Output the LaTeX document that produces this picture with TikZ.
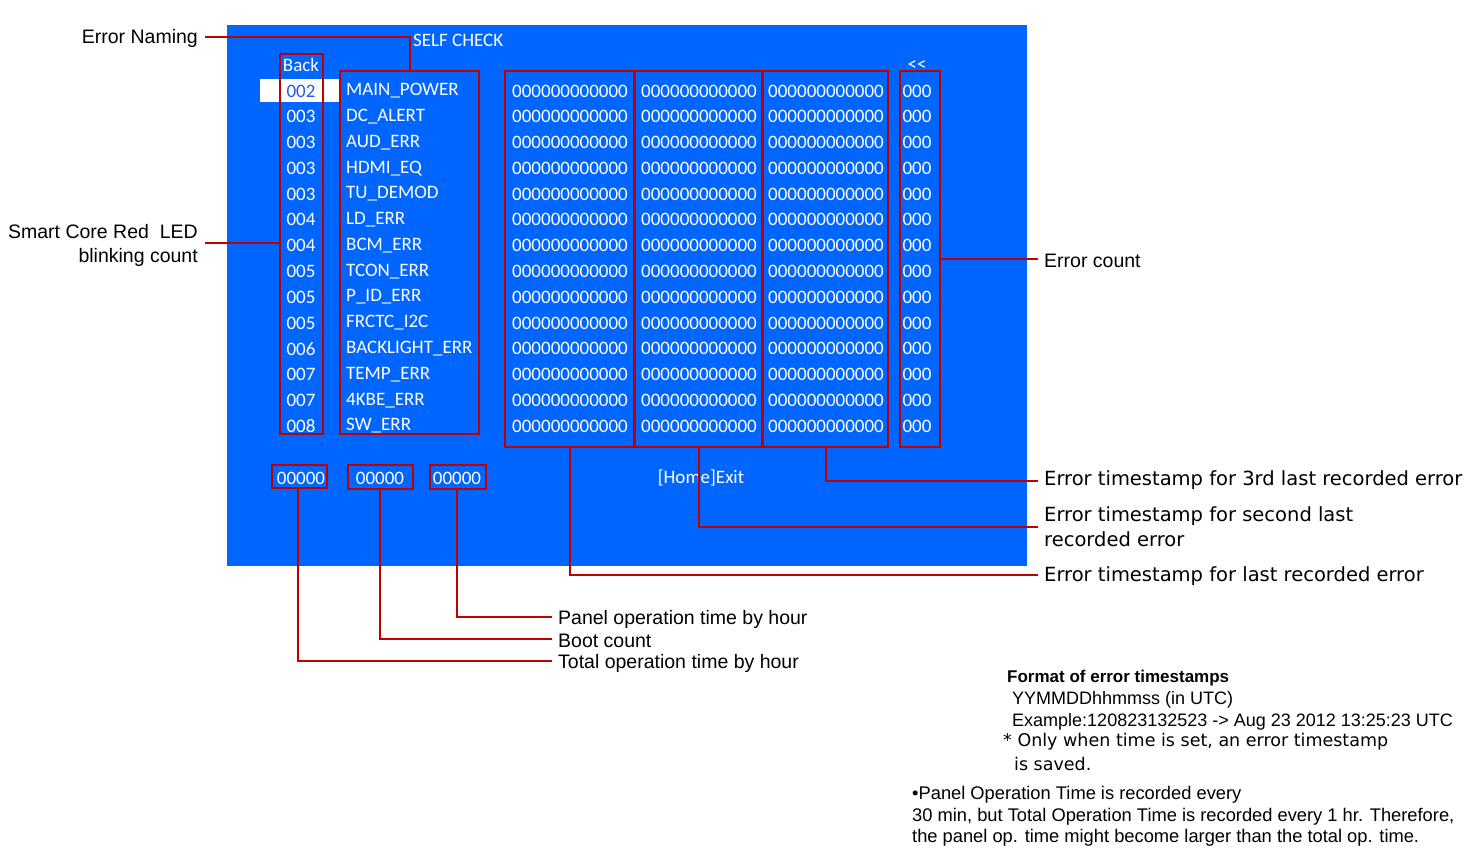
\documentclass[tikz,border=0pt]{standalone}
\usepackage{fontspec}
\setmainfont{Liberation Sans}
\newfontfamily\scr{Carlito}
\newfontfamily\wide{DejaVu Sans}
\begin{document}
\begin{tikzpicture}[x=1pt,y=-1pt,
  scrt/.style={font=\scr\fontsize{19}{19}\selectfont,text=white,inner sep=0pt},
  box/.style={draw=red!75!black,line width=1.6pt},
  lead/.style={draw=red!75!black,line width=1.3pt},
  ann/.style={font=\fontsize{19.5}{24}\selectfont,inner sep=0pt,anchor=west},
  rann/.style={font=\wide\fontsize{19.5}{25}\selectfont,inner sep=0pt,anchor=west},
  fmt/.style={font=\fontsize{18}{21}\selectfont,inner sep=0pt,anchor=west}]
\useasboundingbox (0,0) rectangle (1471,859);
\fill[white] (0,0) rectangle (1471,859);
\fill[fill={rgb,255:red,0;green,102;blue,255}] (227,25) rectangle (1027,566);
\fill[white] (260,79) rectangle (340,102);
\node[scrt,anchor=west] (title) at (413,40) {SELF CHECK};
\node[scrt] (back) at (301,65) {Back};
\node[scrt] (prev) at (917,66) {<<};
\foreach \c/\n [count=\i from 0] in {002/MAIN\_POWER,003/DC\_ALERT,003/AUD\_ERR,003/HDMI\_EQ,003/TU\_DEMOD,004/LD\_ERR,004/BCM\_ERR,005/TCON\_ERR,005/P\_ID\_ERR,005/FRCTC\_I2C,006/BACKLIGHT\_ERR,007/TEMP\_ERR,007/4KBE\_ERR,008/SW\_ERR}{
  \pgfmathsetmacro\yy{91+25.77*\i}
  \node[scrt] (c\i) at (301,\yy) {\c};
  \node[scrt,anchor=west] (n\i) at (346,\yy) {\n};
  \node[scrt] (ta\i) at (570,\yy) {000000000000};
  \node[scrt] (tb\i) at (699,\yy) {000000000000};
  \node[scrt] (tc\i) at (826,\yy) {000000000000};
  \node[scrt] (k\i) at (917,\yy) {000};
}
\node[scrt,text={rgb,255:red,40;green,90;blue,230}] at (301,91) {002};
\node[scrt] (t1) at (301,478) {00000};
\node[scrt] (t2) at (380,478) {00000};
\node[scrt] (t3) at (457,478) {00000};
\node[scrt] (exit) at (701,478) {[Home]Exit};
% boxes
\draw[box] (280,54) rectangle (323,434);
\draw[box] (340,71) rectangle (479,434);
\draw[box] (505,71) rectangle (634,447);
\draw[box] (635,71) rectangle (762,447);
\draw[box] (763,71) rectangle (888,447);
\draw[box] (900,71) rectangle (940,447);
\draw[box] (272,465) rectangle (327,488);
\draw[box] (348,465) rectangle (413,489);
\draw[box] (430,465) rectangle (486,489);
% labels
\node[ann,anchor=east] (lname) at (198,38) {Error Naming};
\node[ann,anchor=east,align=right] (lled) at (198,245) {Smart Core Red\ \ LED\\blinking count};
\node[ann] (lcnt) at (1044,261) {Error count};
\node[rann] (l3) at (1044,480) {Error timestamp for 3rd last recorded error};
\node[rann,align=left] (l2) at (1044,527) {Error timestamp for second last\\recorded error};
\node[rann] (l1) at (1044,576) {Error timestamp for last recorded error};
\node[ann] (lp) at (558,619) {Panel operation time by hour};
\node[ann] (lb) at (558,641) {Boot count};
\node[ann] (lt) at (558,663) {Total operation time by hour};
% leaders
\draw[lead] (205,37) -- (410,37) -- (410,71);
\draw[lead] (205,243) -- (280,243);
\draw[lead] (940,259) -- (1038,259);
\draw[lead] (826,447) -- (826,481) -- (1038,481);
\draw[lead] (699,447) -- (699,527) -- (1038,527);
\draw[lead] (570,447) -- (570,575) -- (1038,575);
\draw[lead] (457,489) -- (457,617) -- (552,617);
\draw[lead] (380,489) -- (380,639) -- (552,639);
\draw[lead] (298,488) -- (298,661) -- (552,661);
% format notes
\node[fmt,font=\bfseries\fontsize{17}{21}\selectfont] (f0) at (1007,678) {Format of error timestamps};
\node[fmt] (f1) at (1012,700) {YYMMDDhhmmss (in UTC)};
\node[fmt] (f2) at (1012,722) {Example:120823132523 -> Aug 23 2012 13:25:23 UTC};
\node[fmt,font=\wide\fontsize{17.5}{21}\selectfont] (f3) at (1003,742) {* Only when time is set, an error timestamp};
\node[fmt,font=\wide\fontsize{17.5}{21}\selectfont] (f4) at (1014,764) {is saved.};
\node[fmt,font=\fontsize{18.3}{21}\selectfont] (g1) at (912,795) {\textbullet Panel Operation Time is recorded every};
\node[fmt,font=\fontsize{18.3}{21}\selectfont] (g2) at (912,817) {30 min, but Total Operation Time is recorded every 1 hr. Therefore,};
\node[fmt,font=\fontsize{18.3}{21}\selectfont] (g3) at (912,838) {the panel op. time might become larger than the total op. time.};
\end{tikzpicture}
\end{document}
